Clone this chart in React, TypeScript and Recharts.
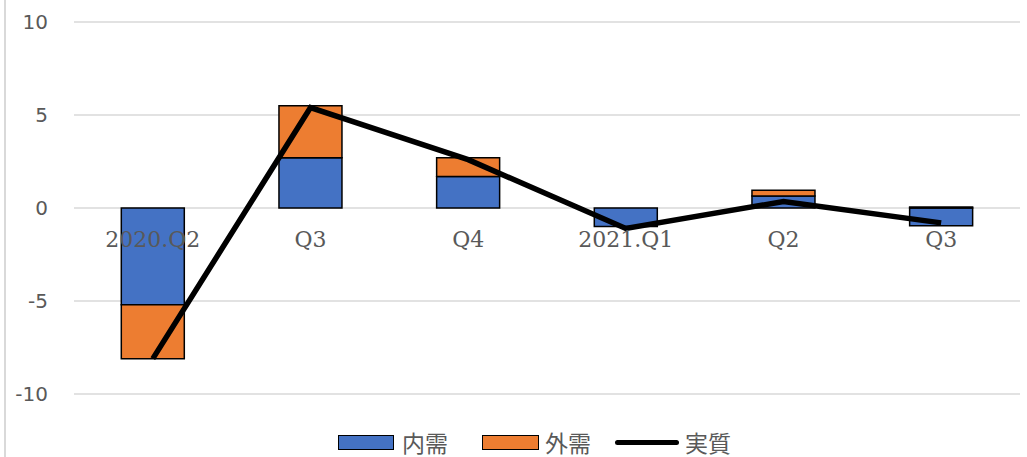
import { ComposedChart, Bar, Line, XAxis, YAxis, CartesianGrid, Legend, LabelList } from 'recharts';

const categories = ['2020.Q2', 'Q3', 'Q4', '2021.Q1', 'Q2', 'Q3'];
const naiju = [-5.2, 2.7, 1.7, -1.0, 0.65, -0.95];
const gaiju = [-2.9, 2.8, 1.0, 0, 0.3, 0.05];
const jisshitsu = [-8.1, 5.4, 2.6, -1.1, 0.35, -0.8];
const yTicks = [-10, -5, 0, 5, 10];

const data = categories.map((name, i) => ({
  name,
  naiju: naiju[i],
  gaiju: gaiju[i],
  jisshitsu: jisshitsu[i],
}));

const GRAY = '#595959';

const LegendContent = () => (
  <div style={{ display: 'flex', alignItems: 'center', height: 28, lineHeight: '28px', fontFamily: '"Noto Sans CJK JP", serif', fontSize: 23, color: GRAY, whiteSpace: 'nowrap' }}>
    <span style={{ display: 'inline-block', width: 54, height: 13, background: '#4472C4', border: '1.5px solid #000' }} />
    <span style={{ marginLeft: 8, marginRight: 34 }}>内需</span>
    <span style={{ display: 'inline-block', width: 55, height: 13, background: '#ED7D31', border: '1.5px solid #000' }} />
    <span style={{ marginLeft: 6, marginRight: 24 }}>外需</span>
    <span style={{ display: 'inline-block', width: 64, height: 5, background: '#000', borderRadius: 3 }} />
    <span style={{ marginLeft: 6 }}>実質</span>
  </div>
);

export default function App() {
  return (
    <div style={{ position: 'absolute', left: 0, top: 0, width: 1027, height: 457, background: '#fff' }}>
      <div style={{ position: 'absolute', left: 4, top: 0, width: 2, height: 457, background: '#d9d9d9' }} />
      <ComposedChart
        width={1027}
        height={457}
        data={data}
        stackOffset="sign"
        barCategoryGap="30%"
        margin={{ top: 22, right: 7, left: 0, bottom: 63 }}
      >
        <CartesianGrid horizontal vertical={false} stroke="#d9d9d9" strokeWidth={1.5} />
        <XAxis dataKey="name" hide />
        <YAxis
          domain={[-10, 10]}
          ticks={yTicks}
          width={74}
          axisLine={false}
          tickLine={false}
          tickSize={0}
          tickMargin={26}
          tick={{ fill: GRAY, fontSize: 20, fontFamily: '"DejaVu Sans", sans-serif' }}
        />
        <Legend
          verticalAlign="middle"
          align="center"
          content={<LegendContent />}
          wrapperStyle={{ top: 428, left: 338, width: 'auto', height: 28 }}
        />
        <Bar dataKey="naiju" stackId="a" fill="#4472C4" stroke="#000" strokeWidth={1.5} isAnimationActive={false} />
        <Bar dataKey="gaiju" stackId="a" fill="#ED7D31" stroke="#000" strokeWidth={1.5} isAnimationActive={false} />
        <Line dataKey="jisshitsu" stroke="#000" strokeWidth={5.5} dot={false} isAnimationActive={false} />
        <Line dataKey={() => 0} stroke="none" dot={false} legendType="none" isAnimationActive={false}>
          <LabelList
            dataKey="name"
            position="bottom"
            offset={23}
            fill={GRAY}
            fontSize={22}
            fontFamily='"DejaVu Serif", serif'
          />
        </Line>
      </ComposedChart>
    </div>
  );
}
